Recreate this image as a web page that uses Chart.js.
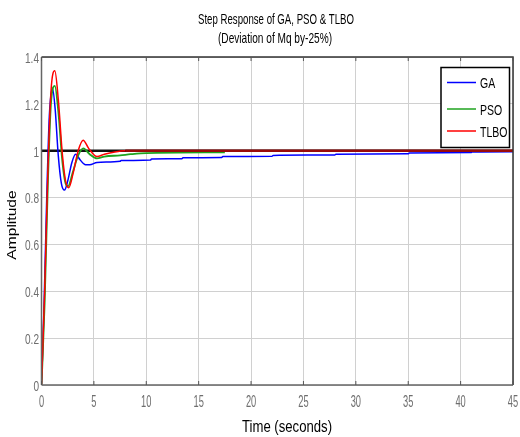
<!DOCTYPE html>
<html>
<head>
<meta charset="utf-8">
<script src="https://cdn.jsdelivr.net/npm/chart.js@4.4.1/dist/chart.umd.min.js"></script>
<style>
  html, body { margin: 0; padding: 0; background: #fff; }
  #wrap { width: 520px; height: 437px; }
</style>
</head>
<body>
<div id="wrap"><canvas id="stepChart" width="520" height="437"></canvas></div>
<script>
  // step response samples [time, amplitude]
  var gaPoints = [[0,0],[0.25,0.35],[0.5,0.8],[0.75,1.15],[1.05,1.266],[1.3,1.18],[1.6,0.98],[1.9,0.86],[2.2,0.832],
    [2.5,0.87],[2.9,0.95],[3.25,0.985],[3.7,0.96],[4.2,0.94],[4.6,0.94],[5.3,0.95],[7.5,0.955],[7.6,0.958],
    [10.4,0.96],[10.5,0.965],[13.4,0.966],[13.5,0.97],[17.2,0.971],[17.3,0.975],[22,0.976],[22.1,0.98],
    [28,0.982],[28.1,0.985],[35,0.987],[35.1,0.99],[41,0.992],[41.1,0.995],[45,0.996]];
  var psoPoints = [[0,0],[0.3,0.35],[0.6,0.85],[0.9,1.2],[1.27,1.277],[1.6,1.17],[2.0,0.95],[2.3,0.86],[2.54,0.849],
    [3.0,0.91],[3.5,0.98],[4.0,1.01],[4.6,0.985],[5.3,0.967],[6,0.975],[7.5,0.98],[8.5,0.985],[10,0.99],[17.5,0.993]];
  var tlboPoints = [[0,0],[0.3,0.4],[0.6,0.9],[0.9,1.25],[1.27,1.341],[1.6,1.22],[2.0,0.98],[2.3,0.87],[2.6,0.842],
    [3.0,0.9],[3.5,1.0],[3.97,1.045],[4.5,1.01],[5.3,0.975],[6,0.985],[7,0.995],[8,1.0],[45,1.0]];
  var refPoints = [[0,1],[45,1]];
  var seriesNames = ['GA', 'PSO', 'TLBO'];
  var seriesColors = ['#0000ff', '#1fa31f', '#ff0000'];
  var yTicks = [0, 0.2, 0.4, 0.6, 0.8, 1, 1.2, 1.4];
  var xTicks = [0, 5, 10, 15, 20, 25, 30, 35, 40, 45];

  var FONT = '"Liberation Sans", Arial, sans-serif';

  function toXY(pts) {
    return pts.map(function (p) { return { x: p[0], y: p[1] }; });
  }

  // the reference text is squeezed sideways, so draw it scaled
  function squeezed(ctx, text, x, y, size, sx, align) {
    ctx.save();
    ctx.translate(x, y);
    ctx.scale(sx, 1);
    ctx.font = size + 'px ' + FONT;
    ctx.textAlign = align;
    ctx.textBaseline = 'middle';
    ctx.fillText(text, 0, 0);
    ctx.restore();
  }

  function fitted(ctx, text, x, y, size, width) {
    ctx.font = size + 'px ' + FONT;
    var w = ctx.measureText(text).width;
    squeezed(ctx, text, x, y, size, width / w, 'center');
  }

  var matlabDecor = {
    id: 'matlabDecor',
    afterDraw: function (chart) {
      var ctx = chart.ctx;
      var area = chart.chartArea;
      var xs = chart.scales.x, ys = chart.scales.y;
      ctx.save();

      // titles
      ctx.fillStyle = '#000';
      fitted(ctx, 'Step Response of GA, PSO & TLBO', 276, 20, 15, 156);
      fitted(ctx, '(Deviation of Mq by-25%)', 275, 38.5, 15, 114);
      fitted(ctx, 'Time (seconds)', 287, 428, 16, 90);

      // y axis title, rotated
      ctx.save();
      ctx.translate(12.5, 225);
      ctx.rotate(-Math.PI / 2);
      ctx.scale(1.3, 1);
      ctx.font = '12px ' + FONT;
      ctx.textAlign = 'center';
      ctx.textBaseline = 'middle';
      ctx.fillStyle = '#000';
      ctx.fillText('Amplitude', 0, 0);
      ctx.restore();

      // tick labels
      ctx.fillStyle = '#6e6e6e';
      xTicks.forEach(function (t) {
        squeezed(ctx, String(t), xs.getPixelForValue(t), 403, 16, 0.58, 'center');
      });
      yTicks.forEach(function (t) {
        squeezed(ctx, String(Math.round(t * 10) / 10), 39, ys.getPixelForValue(t) + 2, 14, 0.72, 'right');
      });

      // frame
      ctx.strokeStyle = '#333';
      ctx.lineWidth = 1.5;
      ctx.beginPath();
      ctx.moveTo(area.left, area.top);
      ctx.lineTo(area.right, area.top);
      ctx.lineTo(area.right, area.bottom);
      ctx.stroke();
      ctx.strokeStyle = '#666';
      ctx.beginPath();
      ctx.moveTo(area.left, area.bottom);
      ctx.lineTo(area.right, area.bottom);
      ctx.moveTo(area.left, area.top);
      ctx.lineTo(area.left, area.bottom);
      ctx.stroke();

      // small inner ticks
      ctx.lineWidth = 1;
      ctx.strokeStyle = '#555';
      ctx.beginPath();
      xTicks.forEach(function (t) {
        var px = xs.getPixelForValue(t);
        ctx.moveTo(px, area.bottom); ctx.lineTo(px, area.bottom - 4);
        ctx.moveTo(px, area.top); ctx.lineTo(px, area.top + 4);
      });
      ctx.stroke();

      // legend
      var lx = 441, ly = 67.5, lw = 68.5, lh = 80;
      var rows = [82.5, 109, 131];
      ctx.fillStyle = '#fff';
      ctx.fillRect(lx, ly, lw, lh);
      ctx.strokeStyle = '#000';
      ctx.lineWidth = 1.5;
      ctx.strokeRect(lx, ly, lw, lh);
      for (var i = 0; i < seriesNames.length; i++) {
        ctx.strokeStyle = seriesColors[i];
        ctx.lineWidth = 1.5;
        ctx.beginPath();
        ctx.moveTo(lx + 6, rows[i]);
        ctx.lineTo(lx + 35, rows[i]);
        ctx.stroke();
        ctx.fillStyle = '#000';
        squeezed(ctx, seriesNames[i], lx + 39, rows[i] + 1.5, 15, 0.7, 'left');
      }
      ctx.restore();
    }
  };

  var ctx = document.getElementById('stepChart').getContext('2d');
  window.stepChart = new Chart(ctx, {
    type: 'line',
    data: {
      datasets: [
        {
          label: 'ref',
          data: toXY(refPoints),
          borderColor: '#111',
          borderWidth: 2.5,
          pointRadius: 0,
          order: 4
        },
        {
          label: seriesNames[0],
          data: toXY(gaPoints),
          borderColor: seriesColors[0],
          borderWidth: 1.5,
          pointRadius: 0,
          order: 3
        },
        {
          label: seriesNames[1],
          data: toXY(psoPoints),
          borderColor: seriesColors[1],
          borderWidth: 1.8,
          pointRadius: 0,
          order: 2
        },
        {
          label: seriesNames[2],
          data: toXY(tlboPoints),
          borderColor: seriesColors[2],
          borderWidth: 1.5,
          pointRadius: 0,
          order: 1,
          segment: {
            // red on top of the black reference line looks maroon
            borderColor: function (c) {
              return (c.p0.parsed.y === 1 && c.p1.parsed.y === 1) ? '#9a0a0a' : undefined;
            },
            borderWidth: function (c) {
              return (c.p0.parsed.y === 1 && c.p1.parsed.y === 1) ? 2.5 : undefined;
            }
          }
        }
      ]
    },
    options: {
      responsive: false,
      animation: false,
      layout: { padding: { top: 57, right: 7, left: 0, bottom: 0 } },
      plugins: {
        legend: { display: false },
        title: { display: false },
        tooltip: { enabled: false }
      },
      elements: { line: { cubicInterpolationMode: 'monotone' } },
      scales: {
        x: {
          type: 'linear',
          min: 0,
          max: 45,
          afterBuildTicks: function (scale) {
            scale.ticks = xTicks.map(function (v) { return { value: v }; });
          },
          afterFit: function (scale) { scale.height = 52; },
          grid: { color: '#d0d0d0', lineWidth: 1, drawTicks: false },
          border: { display: false },
          ticks: { display: false }
        },
        y: {
          type: 'linear',
          min: 0,
          max: 1.4,
          afterBuildTicks: function (scale) {
            scale.ticks = yTicks.map(function (v) { return { value: v }; });
          },
          afterFit: function (scale) { scale.width = 41.5; },
          grid: { color: '#d0d0d0', lineWidth: 1, drawTicks: false },
          border: { display: false },
          ticks: { display: false }
        }
      }
    },
    plugins: [matlabDecor]
  });
</script>
</body>
</html>
